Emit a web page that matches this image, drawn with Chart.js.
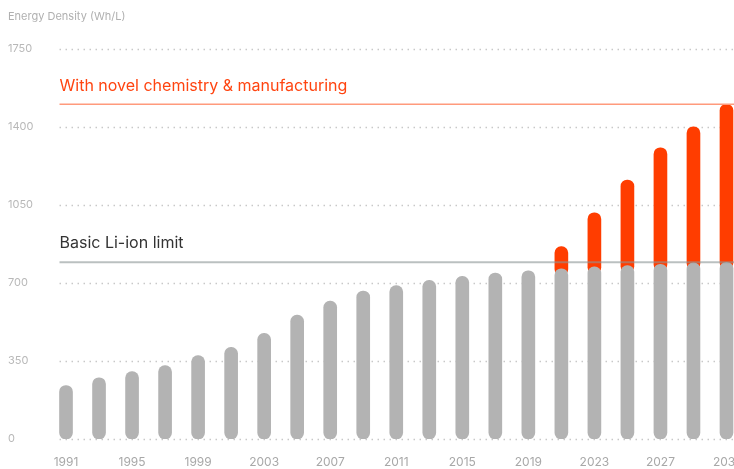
<!DOCTYPE html>
<html>
<head>
<meta charset="utf-8">
<script src="https://cdn.jsdelivr.net/npm/chart.js@4/dist/chart.umd.min.js"></script>
<style>
  html, body { margin: 0; padding: 0; background: #fff; overflow: hidden; }
  #wrap { width: 734px; height: 469px; overflow: hidden; position: relative; }
  #densityChart { position: absolute; left: 0; top: 0; }
</style>
</head>
<body>
<div id="wrap"><canvas id="densityChart" width="743" height="469"></canvas></div>
<script>
// --- Datos ---
const years = ['1991', '1993', '1995', '1997', '1999', '2001', '2003', '2005', '2007', '2009',
  '2011', '2013', '2015', '2017', '2019', '2021', '2023', '2025', '2027', '2029', '2031'];
const basicLiIon = [240, 275, 302, 329, 374, 411, 474, 556, 619, 664,
  688, 712, 730, 745, 755, 764, 772, 778, 784, 790, 793];
const novelChemistry = [null, null, null, null, null, null, null, null, null, null,
  null, null, null, null, null, 863, 1015, 1162, 1307, 1401, 1502];
const yTickValues = [0, 350, 700, 1050, 1400, 1750];
const basicLimit = 793;
const novelLimit = 1502;
const limitLabels = ['Basic Li-ion limit', 'With novel chemistry & manufacturing'];

const GRAY = '#b3b3b3';
const ORANGE = '#ff3d00';

// La barra naranja empieza un poco por debajo de la gris (la gris la tapa)
const novelBars = novelChemistry.map((v, i) => v === null ? null : [basicLiIon[i] - 30, v]);

// Dibuja las líneas de puntos, las líneas de límite y sus textos
const overlayPlugin = {
  id: 'overlay',
  beforeDatasetsDraw(chart) {
    const { ctx, scales } = chart;
    const firstBar = chart.getDatasetMeta(0).data[0];
    const left = firstBar.x - firstBar.width / 2;
    ctx.save();
    ctx.strokeStyle = '#c8c8c8';
    ctx.lineWidth = 1.5;
    ctx.setLineDash([1.5, 4.5]);
    yTickValues.forEach(v => {
      const y = Math.round(scales.y.getPixelForValue(v)) + 0.5;
      ctx.beginPath();
      ctx.moveTo(left, y);
      ctx.lineTo(chart.width, y);
      ctx.stroke();
    });
    ctx.restore();
  },
  afterDatasetsDraw(chart) {
    const { ctx, scales } = chart;
    const firstBar = chart.getDatasetMeta(0).data[0];
    const left = firstBar.x - firstBar.width / 2;
    const yBasic = scales.y.getPixelForValue(basicLimit);
    const yNovel = scales.y.getPixelForValue(novelLimit);
    ctx.save();
    ctx.lineWidth = 2;
    ctx.strokeStyle = 'rgba(140,150,150,0.6)';
    ctx.beginPath();
    ctx.moveTo(left, yBasic);
    ctx.lineTo(chart.width, yBasic);
    ctx.stroke();
    ctx.lineWidth = 1.5;
    ctx.strokeStyle = '#ff9a7c';
    ctx.beginPath();
    ctx.moveTo(left, yNovel);
    ctx.lineTo(chart.width, yNovel);
    ctx.stroke();

    ctx.font = '16px Inter, sans-serif';
    ctx.textAlign = 'left';
    ctx.textBaseline = 'middle';
    ctx.fillStyle = '#333333';
    ctx.fillText(limitLabels[0], left, yBasic - 19);
    ctx.fillStyle = '#ff4410';
    ctx.fillText(limitLabels[1], left, yNovel - 18);
    ctx.restore();
  }
};

new Chart(document.getElementById('densityChart'), {
  type: 'bar',
  data: {
    labels: years,
    datasets: [
      {
        label: 'Basic Li-ion',
        data: basicLiIon,
        backgroundColor: GRAY,
        borderRadius: 7,
        borderSkipped: false,
        barThickness: 13
      },
      {
        label: 'Novel chemistry & manufacturing',
        data: novelBars,
        backgroundColor: ORANGE,
        borderRadius: 7,
        borderSkipped: false,
        barThickness: 13
      }
    ]
  },
  options: {
    responsive: false,
    animation: false,
    layout: { padding: { left: 8, right: 0, top: 0, bottom: 0 } },
    scales: {
      x: {
        stacked: true,
        grid: { display: false, drawTicks: false },
        border: { display: false },
        ticks: {
          autoSkip: false,
          maxRotation: 0,
          padding: 16,
          color: '#a8a8a8',
          font: { family: 'Inter, sans-serif', size: 12 },
          callback: function (value, index) {
            return index % 2 === 0 ? this.getLabelForValue(value) : '';
          }
        },
        afterFit(scale) {
          scale.height = 30;
          scale.paddingLeft = 0;
          scale.paddingRight = 0;
        }
      },
      y: {
        stacked: false,
        min: 0,
        max: 1750,
        grid: { display: false, drawTicks: false },
        border: { display: false },
        ticks: {
          stepSize: 350,
          crossAlign: 'far',
          padding: 0,
          color: '#b8b8b8',
          font: { family: 'Inter, sans-serif', size: 11 },
          callback: value => String(value)
        },
        afterFit(scale) { scale.width = 41.5; }
      }
    },
    plugins: {
      legend: { display: false },
      tooltip: { enabled: false },
      title: {
        display: true,
        text: 'Energy Density (Wh/L)',
        align: 'start',
        color: '#b0b0b0',
        font: { family: 'Inter, sans-serif', size: 11, weight: 'normal' },
        padding: { top: 10, bottom: 25.8 }
      }
    }
  },
  plugins: [overlayPlugin]
});
</script>
</body>
</html>
